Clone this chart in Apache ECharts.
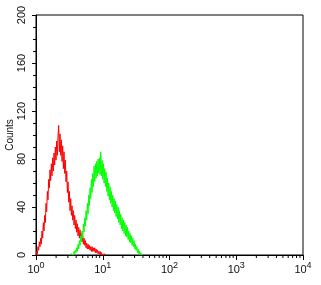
<!DOCTYPE html>
<html><head><meta charset="utf-8">
<script src="https://cdn.jsdelivr.net/npm/echarts@6/dist/echarts.min.js"></script>
<style>html,body{margin:0;padding:0;background:#fff}#c{width:321px;height:285px}</style>
</head><body><div id="c"></div>
<script>
// log10 of the first bin and bin width (log10 units) for each histogram
const redLogStart = 0.00;
const greenLogStart = 0.50;
const binLog = 0.01;
const redCounts = [0,3,1,7,4,11,7,14,9,20,14,27,20,33,27,43,36,53,46,63,56,71,62,76,66,81,70,85,75,90,79,95,83,100,108,86,101,83,96,78,91,72,86,68,79,61,70,52,61,44,53,37,47,33,41,29,37,25,33,22,29,19,26,16,23,14,21,13,18,11,16,9,14,8,12,6,10,5,9,5,8,4,7,3,7,3,6,3,6,2,5,2,4,1,3,1,3,0,2,0,1,0,1,0,1,0];
const greenCounts = [0,1,0,1,0,2,0,3,1,4,2,6,3,9,5,12,8,16,11,20,14,26,19,31,24,37,29,43,34,50,41,56,47,63,52,68,57,74,61,76,64,78,66,80,68,81,67,86,66,79,63,76,60,72,57,69,53,64,49,60,46,57,43,53,40,50,37,47,35,45,32,42,30,40,27,37,25,34,22,31,20,29,18,27,16,25,15,23,13,20,11,18,10,16,8,14,7,12,5,9,4,7,2,5,1,3,0,2,0,1,0];
const xMinorTicks = [2,3,4,5,6,7,8,9,20,30,40,50,60,70,80,90,200,300,400,500,600,700,800,900,2000,3000,4000,5000,6000,7000,8000,9000];
const yTicks = [0,40,80,120,160,200];

function toPairs(start, counts){
  return counts.map((c,i)=>[Math.pow(10, start + i*binLog), c]);
}

const chart = echarts.init(document.getElementById('c'), null, {renderer:'canvas'});
const txt = '#111';
chart.setOption({
  animation:false,
  backgroundColor:'#fff',
  grid:{left:36,right:18,top:15,bottom:30,show:true,borderColor:'#000',borderWidth:1,containLabel:false,outerBoundsMode:'none'},
  xAxis:{
    type:'log', logBase:10, min:1, max:10000,
    axisLine:{show:true,lineStyle:{color:'#000',width:1}},
    axisTick:{show:true,length:5,lineStyle:{color:'#000'}},
    splitLine:{show:false},
    minorTick:{show:false},
    axisLabel:{
      show:true, margin:6, showMinLabel:true, showMaxLabel:true,
      formatter:function(v){
        const e = Math.round(Math.log10(v));
        return '{b|10}{s|'+e+'}';
      },
      rich:{
        b:{fontFamily:'Liberation Sans',fontSize:11,color:txt,verticalAlign:'bottom',lineHeight:14},
        s:{fontFamily:'Liberation Sans',fontSize:9,color:txt,verticalAlign:'top',lineHeight:14,padding:[0,0,6,0]}
      }
    }
  },
  yAxis:{
    type:'value', min:0, max:200, interval:40,
    name:'Counts', nameLocation:'middle', nameGap:21, nameRotate:90, nameMoveOverlap:false,
    nameTextStyle:{fontFamily:'Liberation Sans',fontSize:10,color:txt},
    axisLine:{show:true,lineStyle:{color:'#000',width:1}},
    axisTick:{show:true,length:4,lineStyle:{color:'#000'}},
    minorTick:{show:true,splitNumber:4,length:3,lineStyle:{color:'#000'}},
    splitLine:{show:false},
    axisLabel:{rotate:90,margin:9,fontFamily:'Liberation Sans',fontSize:11,color:txt,
      formatter:function(v){return yTicks.indexOf(v)>=0?String(v):'';}}
  },
  series:[
    {type:'line',data:toPairs(redLogStart, redCounts),showSymbol:false,symbol:'none',
      lineStyle:{color:'#ff0000',width:1},z:3},
    {type:'line',data:toPairs(greenLogStart, greenCounts),showSymbol:false,symbol:'none',
      lineStyle:{color:'#00ff00',width:1},z:4},
    {type:'custom',data:xMinorTicks.map(v=>[v,0]),clip:false,silent:true,z:5,
      encode:{x:0,y:1},
      renderItem:function(params,api){
        const p = api.coord([api.value(0),0]);
        return {type:'line',shape:{x1:p[0],y1:p[1],x2:p[0],y2:p[1]+3},style:{stroke:'#000',lineWidth:1}};
      }}
  ]
});
</script></body></html>
